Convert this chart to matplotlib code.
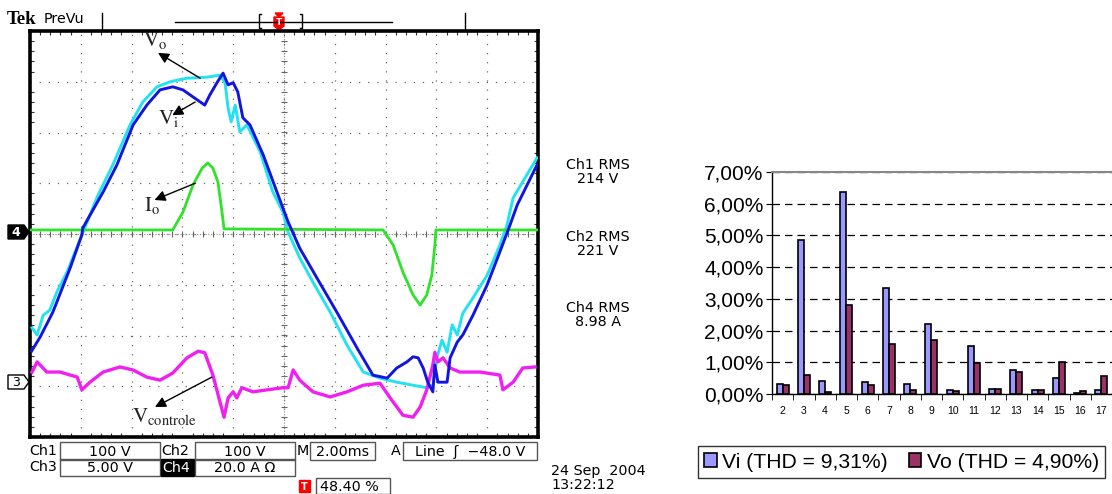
#encoding=utf-8

import numpy as np
import matplotlib
matplotlib.use("Agg")
import matplotlib.pyplot as plt
from matplotlib.patches import Rectangle, Polygon

# ---- harmonic spectrum (right chart) ----
harm = list(range(2, 18))
vi_pct = [0.33, 4.85, 0.42, 6.37, 0.37, 3.35, 0.32, 2.20, 0.12, 1.52, 0.17, 0.77, 0.14, 0.50, 0.03, 0.12]
vo_pct = [0.27, 0.60, 0.07, 2.82, 0.28, 1.58, 0.12, 1.70, 0.10, 0.98, 0.16, 0.70, 0.12, 1.02, 0.08, 0.58]
vi_label = "Vi (THD = 9,31%)"
vo_label = "Vo (THD = 4,90%)"

# ---- scope traces, in screen divisions (x 0..10, y -4..4) ----
vi_x = [0.03, 0.20, 0.45, 0.79, 1.02, 1.04, 1.44, 1.71, 2.03, 2.30, 2.56, 2.81, 3.01, 3.21, 3.44,
        3.54, 3.68, 3.80, 3.90, 4.00, 4.09, 4.19, 4.33, 4.59, 4.86, 5.08, 5.31, 5.65, 6.04, 6.44,
        6.75, 7.03, 7.22, 7.42, 7.54, 7.64, 7.74, 7.83, 7.93, 7.97, 8.03, 8.21, 8.27, 8.41, 8.52,
        8.72, 9.00, 9.25, 9.45, 9.59, 9.98]
vi_y = [-2.31, -2.03, -1.54, -0.67, -0.02, 0.12, 0.83, 1.36, 2.15, 2.54, 2.84, 2.90, 2.84, 2.70, 2.54,
        2.74, 2.98, 3.17, 2.94, 2.98, 2.80, 2.29, 2.15, 1.56, 0.83, 0.24, -0.28, -0.87, -1.54, -2.25,
        -2.78, -2.84, -2.64, -2.52, -2.42, -2.44, -2.64, -2.92, -3.11, -2.58, -2.92, -2.92, -2.44, -2.13, -1.99,
        -1.60, -1.00, -0.35, 0.18, 0.57, 1.36]

vo_x = [0.04, 0.14, 0.26, 0.39, 0.53, 0.73, 1.02, 1.34, 1.63, 1.97, 2.22, 2.50, 2.76, 3.09, 3.48,
        3.74, 3.84, 3.90, 3.96, 4.04, 4.13, 4.27, 4.53, 4.78, 4.98, 5.08, 5.31, 5.57, 5.91, 6.24,
        6.56, 6.89, 7.22, 7.54, 7.81, 7.93, 8.01, 8.11, 8.21, 8.31, 8.41, 8.52, 8.72, 9.00, 9.25,
        9.39, 9.51, 9.98]
vo_y = [-1.85, -1.99, -1.60, -1.50, -1.14, -0.75, -0.02, 0.77, 1.36, 2.15, 2.60, 2.90, 3.00, 3.07, 3.09,
        3.13, 2.98, 2.48, 2.21, 2.54, 2.01, 2.15, 1.62, 0.83, 0.43, 0.04, -0.47, -0.95, -1.54, -2.19,
        -2.72, -2.84, -2.92, -2.98, -3.03, -2.98, -2.44, -2.09, -2.33, -1.79, -1.99, -1.56, -1.26, -0.81, -0.22,
        0.18, 0.71, 1.50]

io_x = [0.00, 2.81, 3.01, 3.21, 3.39, 3.50, 3.60, 3.70, 3.78, 3.82, 6.95, 7.15, 7.34, 7.54, 7.68,
        7.81, 7.91, 7.97, 7.99, 9.98]
io_y = [0.08, 0.08, 0.43, 0.97, 1.30, 1.40, 1.30, 1.02, 0.43, 0.10, 0.08, -0.22, -0.75, -1.20, -1.40,
        -1.20, -0.81, -0.22, 0.08, 0.08]

vc_x = [0.04, 0.14, 0.33, 0.59, 0.93, 1.02, 1.18, 1.44, 1.77, 2.03, 2.30, 2.56, 2.81, 3.09, 3.31,
        3.44, 3.60, 3.74, 3.82, 3.90, 4.00, 4.07, 4.17, 4.39, 4.67, 4.98, 5.08, 5.18, 5.31, 5.57,
        5.91, 6.24, 6.56, 6.89, 7.09, 7.34, 7.54, 7.68, 7.81, 7.93, 7.97, 8.03, 8.13, 8.27, 8.46,
        8.86, 9.25, 9.31, 9.51, 9.70, 9.94]
vc_y = [-2.72, -2.52, -2.72, -2.72, -2.82, -3.07, -2.92, -2.72, -2.62, -2.68, -2.82, -2.88, -2.74, -2.44, -2.31,
        -2.34, -2.78, -3.31, -3.61, -3.23, -3.11, -3.23, -3.03, -3.11, -3.07, -3.03, -3.03, -2.68, -2.88, -3.11,
        -3.21, -3.11, -2.98, -2.94, -3.23, -3.57, -3.61, -3.41, -3.07, -2.58, -2.33, -2.52, -2.44, -2.64, -2.72,
        -2.72, -2.78, -3.07, -2.92, -2.64, -2.62]

rms_text = ["Ch1 RMS\n214 V", "Ch2 RMS\n221 V", "Ch4 RMS\n8.98 A"]


def main():
    plt.rcParams["mathtext.fontset"] = "stix"
    W, H = 1112, 494
    fig = plt.figure(figsize=(W / 100, H / 100), dpi=100)
    fig.patch.set_facecolor("white")

    # pixel-space layer for the scope furniture
    deco = fig.add_axes([0, 0, 1, 1])
    deco.set_xlim(0, W)
    deco.set_ylim(H, 0)
    deco.axis("off")

    sf = dict(family="DejaVu Sans", fontsize=10.3, color="black")

    deco.text(7, 20, "Tek", family="Liberation Serif", fontweight="bold", fontsize=13.5, va="center")
    deco.text(44, 19, "PreVu", va="center", **sf)
    deco.plot([102, 102], [13, 30], color="k", lw=1)
    deco.plot([465, 465], [13, 30], color="k", lw=1)
    deco.plot([175, 392], [22, 22], color="k", lw=1)
    deco.plot([261, 259, 259, 261], [14, 14, 28, 28], color="k", lw=1)
    deco.plot([300, 302, 302, 300], [14, 14, 28, 28], color="k", lw=1)
    # trigger markers
    deco.add_patch(Polygon([[275, 13], [283, 13], [279, 17]], color="red"))
    deco.add_patch(Polygon([[274, 17], [284, 17], [284, 26], [279, 30], [274, 26]], color="red"))
    deco.text(279, 22.5, "T", color="white", fontsize=6.5, fontweight="bold", ha="center", va="center")
    deco.add_patch(Polygon([[269, 33], [281, 33], [275, 39]], color="red", zorder=5))
    deco.add_patch(Polygon([[268, 40], [282, 40], [282, 50], [275, 55], [268, 50]], color="red", zorder=5))
    deco.text(275, 47, "T", color="white", fontsize=8.5, fontweight="bold", ha="center", va="center", zorder=6)

    # channel ground markers
    deco.add_patch(Polygon([[8, 225], [24, 225], [29, 232], [24, 239], [8, 239]], fc="black", ec="black"))
    deco.text(16, 232, "4", color="white", fontsize=9, fontweight="bold", ha="center", va="center")
    deco.add_patch(Polygon([[8, 375], [24, 375], [29, 382], [24, 389], [8, 389]], fc="white", ec="black", lw=1))
    deco.text(16, 382, "3", color="black", fontsize=9, ha="center", va="center")

    # bottom status boxes
    def box(x0, x1, y0, y1, txt, ha="center", tx=None):
        deco.add_patch(Rectangle((x0, y0), x1 - x0, y1 - y0, fill=False, ec="#555555", lw=1))
        deco.text((x0 + x1) / 2 if tx is None else tx, (y0 + y1) / 2 + 0.5, txt, ha=ha, va="center", **sf)

    deco.text(29, 451, "Ch1", va="center", **sf)
    box(60, 160, 442, 460, "100 V")
    deco.text(161, 451, "Ch2", va="center", **sf)
    box(195, 295, 442, 460, "100 V")
    deco.text(297, 451, "M", va="center", **sf)
    box(310, 375, 442, 460, "2.00ms")
    deco.text(391, 451, "A", va="center", **sf)
    box(403, 537, 442, 460, "Line  \u0283  \u221248.0 V")
    deco.text(29, 467, "Ch3", va="center", **sf)
    box(60, 160, 459, 476, "5.00 V")
    deco.add_patch(Rectangle((161, 459), 33, 17, fc="black", ec="black"))
    deco.text(162, 467.5, "Ch4", va="center", family="DejaVu Sans", fontsize=10.3, color="white")
    box(195, 295, 459, 476, "20.0 A \u03a9")
    deco.add_patch(Rectangle((299, 480), 11, 12, fc="red", ec="red"))
    deco.text(304.5, 486.5, "T", color="white", fontsize=7, fontweight="bold", ha="center", va="center")
    box(316, 390, 478, 494, "48.40 %", ha="left", tx=320)

    for i, t in enumerate(rms_text):
        deco.text(598, 172 + i * 71.5, t, ha="center", va="center", linespacing=1.0, **sf)
    deco.text(551, 478, "24 Sep  2004\n13:22:12", ha="left", va="center", linespacing=1.0, **sf)

    # ---- scope screen ----
    ax = fig.add_axes([30 / W, 1 - 437 / H, 508 / W, 406 / H])
    ax.set_xlim(0, 10)
    ax.set_ylim(-4, 4)
    ax.set_facecolor("white")
    for s in ax.spines.values():
        s.set_linewidth(2.6)
        s.set_color("black")
    ax.set_xticks(range(11))
    ax.set_yticks(range(-4, 5))
    ax.set_xticks(np.arange(0, 10.01, 0.2), minor=True)
    ax.set_yticks(np.arange(-4, 4.01, 0.2), minor=True)
    ax.tick_params(which="both", direction="in", top=True, right=True,
                   labelbottom=False, labelleft=False, color="#333333")
    ax.tick_params(which="major", length=0)
    ax.tick_params(which="minor", length=3, width=0.8)
    ax.grid(True, which="major", color="#666666", lw=0.9, linestyle=(0, (1, 6.3)))
    ax.axhline(0, color="#888888", lw=0.8, linestyle=(0, (1, 1.5)))
    ax.axvline(5, color="#888888", lw=0.8, linestyle=(0, (1, 1.5)))
    ticks = np.arange(0, 10.01, 0.2)
    ax.plot(ticks, np.zeros_like(ticks), "|", color="#666666", ms=4, mew=0.8)
    vticks = np.arange(-4, 4.01, 0.2)
    ax.plot(np.full_like(vticks, 5), vticks, "_", color="#666666", ms=4, mew=0.8)

    ax.plot(vo_x, vo_y, color="#22e2f2", lw=2.1, zorder=3)
    ax.plot(vi_x, vi_y, color="#1414e0", lw=2.1, zorder=4)
    ax.plot(io_x, io_y, color="#2fe22a", lw=2.0, zorder=3)
    ax.plot(vc_x, vc_y, color="#f020f0", lw=2.4, zorder=3)

    lab = dict(fontsize=15, color="#222222")
    arr = dict(arrowstyle="-|>", color="black", lw=1.0, mutation_scale=16, shrinkA=0, shrinkB=0)
    ax.text(2.22, 3.70, r"$\mathrm{V_o}$", **lab)
    ax.annotate("", xy=(2.52, 3.57), xytext=(3.35, 3.07), arrowprops=arr)
    ax.text(2.52, 2.17, r"$\mathrm{V_i}$", **lab)
    ax.annotate("", xy=(2.80, 2.34), xytext=(3.25, 2.60), arrowprops=arr)
    ax.text(2.25, 0.45, r"$\mathrm{I_o}$", **lab)
    ax.annotate("", xy=(2.45, 0.67), xytext=(3.25, 1.00), arrowprops=arr)
    ax.text(2.0, -3.70, r"$\mathrm{V_{controle}}$", **lab)
    ax.annotate("", xy=(2.46, -3.41), xytext=(3.58, -2.82), arrowprops=arr)

    # ---- harmonic bar chart ----
    bx = fig.add_axes([772 / W, 1 - 394 / H, (W - 772) / W, (394 - 172) / H])
    x = np.array(harm)
    bx.bar(x - 0.14, vi_pct, 0.28, color="#9999ff", edgecolor="black", lw=1.2, label=vi_label, zorder=3)
    bx.bar(x + 0.14, vo_pct, 0.28, color="#993366", edgecolor="black", lw=1.2, label=vo_label, zorder=3)
    bx.set_xlim(1.5, 17.5)
    bx.set_ylim(0, 7)
    bx.set_yticks(range(8))
    bx.set_yticklabels(["%d,00%%" % v for v in range(8)], family="Liberation Sans", fontsize=15)
    bx.set_xticks(harm)
    bx.set_xticklabels([str(h) for h in harm], family="Liberation Sans", fontsize=7.5)
    bx.set_xticks(np.arange(1.5, 17.6, 1), minor=True)
    bx.tick_params(axis="x", which="major", length=0, pad=9)
    bx.tick_params(axis="x", which="minor", length=4, direction="out")
    bx.tick_params(axis="y", length=4, direction="out", pad=2)
    bx.yaxis.grid(True, color="black", lw=0.9, linestyle=(0, (6, 4)))
    bx.set_axisbelow(True)
    bx.spines["right"].set_visible(False)
    bx.spines["top"].set_color("#888888")
    bx.spines["top"].set_linewidth(1.5)
    bx.spines["left"].set_linewidth(1.0)
    bx.spines["bottom"].set_linewidth(1.0)

    leg = fig.legend(loc="center", bbox_to_anchor=(901.5 / W, 1 - 462 / H), ncol=2,
                     prop={"family": "Liberation Sans", "size": 15.2}, frameon=True, fancybox=False,
                     edgecolor="black", handlelength=0.6, handleheight=0.6, handletextpad=0.25,
                     columnspacing=1.0, borderpad=0.3, borderaxespad=0)
    leg.get_frame().set_linewidth(1.0)

    fig.savefig("out.png", dpi=100, facecolor="white")


if __name__ == '__main__':
    main()
